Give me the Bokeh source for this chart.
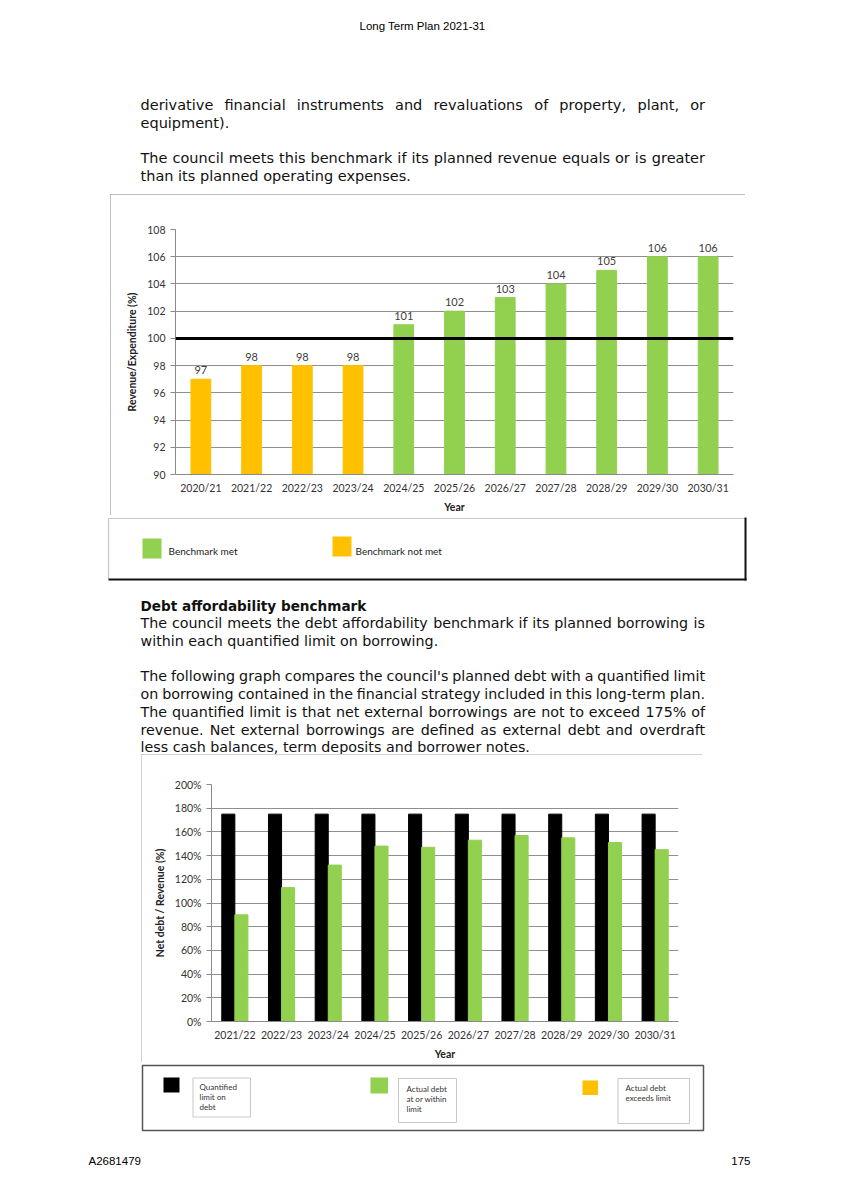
from bokeh.plotting import figure
from bokeh.layouts import column, row
from bokeh.models import (Range1d, FactorRange, FixedTicker, Span, Spacer,
                          PrintfTickFormatter, ColumnDataSource)
from bokeh.transform import dodge
from bokeh.core.properties import value
from bokeh.embed import file_html
from bokeh.resources import INLINE

# ---------------- data ----------------
years1 = ["2020/21", "2021/22", "2022/23", "2023/24", "2024/25", "2025/26",
          "2026/27", "2027/28", "2028/29", "2029/30", "2030/31"]
ratio1 = [97, 98, 98, 98, 101, 102, 103, 104, 105, 106, 106]
benchmark1 = 100
y1_ticks = [90, 92, 94, 96, 98, 100, 102, 104, 106, 108]

years2 = ["2021/22", "2022/23", "2023/24", "2024/25", "2025/26",
          "2026/27", "2027/28", "2028/29", "2029/30", "2030/31"]
limit2 = [175, 175, 175, 175, 175, 175, 175, 175, 175, 175]
actual2 = [90, 113, 132, 148, 147, 153, 157, 155, 151, 145]
y2_ticks = [0, 20, 40, 60, 80, 100, 120, 140, 160, 180, 200]

GREEN = "#92D050"
ORANGE = "#FFC000"
BODY_FONT = "DejaVu Sans"
CHART_FONT = "Lato"
TXT = "#111111"
PAGE_W = 844

# approximate DejaVu Sans advance widths (em)
CW = {' ': 0.318, 'a': 0.613, 'b': 0.635, 'c': 0.550, 'd': 0.635, 'e': 0.615, 'f': 0.352,
      'g': 0.635, 'h': 0.634, 'i': 0.278, 'j': 0.278, 'k': 0.579, 'l': 0.278, 'm': 0.974,
      'n': 0.634, 'o': 0.612, 'p': 0.635, 'q': 0.635, 'r': 0.411, 's': 0.521, 't': 0.392,
      'u': 0.634, 'v': 0.592, 'w': 0.818, 'x': 0.592, 'y': 0.592, 'z': 0.525, ',': 0.318,
      '.': 0.318, "'": 0.275, '-': 0.361, '%': 0.950, '(': 0.390, ')': 0.390, 'T': 0.611,
      'D': 0.770, 'N': 0.748}
for d in "0123456789":
    CW[d] = 0.636


def unit_w(s):
    return sum(CW.get(ch, 0.6) for ch in s)


def fit_size(lines, flags, width, cap, min_gap=0.30):
    fs = cap
    for line, j in zip(lines, flags):
        if j:
            words = line.split(" ")
            u = sum(unit_w(w) for w in words) + (len(words) - 1) * min_gap
            fs = min(fs, width / u)
    return fs


def page_fig(y0, y1):
    p = figure(width=PAGE_W, height=int(round(y1 - y0)), x_range=Range1d(0, PAGE_W),
               y_range=Range1d(y1, y0), output_backend="svg", toolbar_location=None,
               x_axis_location=None, y_axis_location=None, min_border=0)
    p.grid.visible = False
    p.outline_line_color = None
    return p


def draw_par(p, lines, ys, flags, fs, x0=140, x1=704.5):
    lx, ly, lt, rx, ry, rt = [], [], [], [], [], []
    for line, y, j in zip(lines, ys, flags):
        if not j:
            lx.append(x0); ly.append(y); lt.append(line)
            continue
        words = line.split(" ")
        widths = [unit_w(w) * fs for w in words]
        gap = (x1 - x0 - sum(widths)) / (len(words) - 1)
        x = x0
        for i, (w, wd) in enumerate(zip(words, widths)):
            if i == len(words) - 1:
                rx.append(x1); ry.append(y); rt.append(w)
            else:
                lx.append(x); ly.append(y); lt.append(w)
            x += wd + gap
    common = dict(text_baseline="middle", text_font=value(BODY_FONT),
                  text_font_size=f"{fs:.2f}px", text_color=TXT)
    p.text(x=lx, y=ly, text=lt, text_align="left", **common)
    if rt:
        p.text(x=rx, y=ry, text=rt, text_align="right", **common)


def style_axes(p, ylabel, yticks):
    p.outline_line_color = None
    p.xgrid.visible = False
    p.ygrid.ticker = FixedTicker(ticks=yticks)
    p.ygrid.grid_line_color = "#8f8f8f"
    p.ygrid.grid_line_width = 1
    for ax in p.axis:
        ax.axis_line_color = "#8a8a8a"
        ax.major_label_text_font = CHART_FONT
        ax.major_label_text_font_size = "10.5px"
        ax.major_label_text_color = "#333333"
        ax.axis_label_text_font = CHART_FONT
        ax.axis_label_text_font_size = "10.5px"
        ax.axis_label_text_font_style = "bold"
        ax.axis_label_text_color = "#222222"
        ax.minor_tick_line_color = None
    p.xaxis.major_tick_line_color = None
    p.xaxis.major_tick_out = 0
    p.xaxis.major_label_standoff = 7
    p.xaxis.axis_label = "Year"
    p.xaxis.axis_label_standoff = 4
    p.yaxis.ticker = FixedTicker(ticks=yticks)
    p.yaxis.major_tick_line_color = "#8a8a8a"
    p.yaxis.major_tick_out = 5
    p.yaxis.major_tick_in = 0
    p.yaxis.major_label_standoff = 5
    p.yaxis.axis_label = ylabel
    p.yaxis.axis_label_standoff = 6


# ---------------- strip A: top text (page y 0..194) ----------------
top = page_fig(0, 194)
top.text(x=[422], y=[25], text=["Long Term Plan 2021-31"], text_align="center",
         text_baseline="middle", text_font=value("Liberation Sans"),
         text_font_size="11.5px", text_color="#000000")
par1 = ["derivative financial instruments and revaluations of property, plant, or",
        "equipment).",
        "The council meets this benchmark if its planned revenue equals or is greater",
        "than its planned operating expenses."]
flags1 = [True, False, True, False]
fs1 = fit_size(par1, flags1, 564.5, 14.5)
draw_par(top, par1, [104, 122.5, 157.5, 175.5], flags1, fs1)

# ---------------- strip B: chart 1 (page x 110..745, y 194..515) ----------------
src1 = ColumnDataSource(dict(
    year=years1, ratio=ratio1, label=[str(v) for v in ratio1],
    color=[GREEN if v >= benchmark1 else ORANGE for v in ratio1]))

p1 = figure(width=635, height=321, x_range=FactorRange(*years1),
            y_range=Range1d(y1_ticks[0], y1_ticks[-1]), output_backend="svg",
            toolbar_location=None, min_border_left=65, min_border_right=12,
            min_border_top=35, min_border_bottom=40,
            styles={"outline": "2px solid #a8a8a8", "outline-offset": "-2px"})
p1.vbar(x="year", top="ratio", bottom=y1_ticks[0], width=0.39, color="color", source=src1)
p1.text(x="year", y="ratio", text="label", source=src1, text_align="center",
        text_baseline="bottom", y_offset=-5, text_font=value(CHART_FONT),
        text_font_size="11px", text_color="#404040")
p1.add_layout(Span(location=benchmark1, dimension="width", line_color="black", line_width=3))
style_axes(p1, "Revenue/Expenditure (%)", y1_ticks)
stripB = row(Spacer(width=110, height=321), p1, Spacer(width=PAGE_W - 745, height=321))

# ---------------- strip C: legend 1 + middle text (page y 515..754) ----------------
mid = page_fig(515, 754)
mid.segment(x0=[108, 108], y0=[518, 518], x1=[745, 108], y1=[518, 579],
            line_color="#c8c8c8", line_width=1.2)
mid.segment(x0=[745, 108], y0=[517, 579], x1=[745, 746], y1=[580, 579],
            line_color="#111111", line_width=2)
mid.quad(left=[142, 332], right=[161, 351], top=[538, 536], bottom=[558, 556],
         fill_color=[GREEN, ORANGE], line_color=None)
mid.text(x=[168, 355], y=[550, 550], text=["Benchmark met", "Benchmark not met"],
         text_align="left", text_baseline="middle", text_font=value(CHART_FONT),
         text_font_size="10px", text_color="#222222")
mid.text(x=[140], y=[605], text=["Debt affordability benchmark"], text_align="left",
         text_baseline="middle", text_font=value(BODY_FONT), text_font_size="13.6px",
         text_font_style="bold", text_color=TXT)
par2 = ["The council meets the debt affordability benchmark if its planned borrowing is",
        "within each quantified limit on borrowing.",
        "The following graph compares the council's planned debt with a quantified limit",
        "on borrowing contained in the financial strategy included in this long-term plan.",
        "The quantified limit is that net external borrowings are not to exceed 175% of",
        "revenue. Net external borrowings are defined as external debt and overdraft",
        "less cash balances, term deposits and borrower notes."]
flags2 = [True, False, True, True, True, True, False]
fs2 = fit_size(par2, flags2, 564.5, 14.5, min_gap=0.27)
draw_par(mid, par2, [622.5, 640.5, 675, 693, 711, 729, 746.5], flags2, fs2)

# ---------------- strip D: chart 2 (page x 141..702, y 754..1062) ----------------
src2 = ColumnDataSource(dict(year=years2, limit=limit2, actual=actual2))
p2 = figure(width=561, height=308, x_range=FactorRange(*years2),
            y_range=Range1d(y2_ticks[0], y2_ticks[-1]), output_backend="svg",
            toolbar_location=None, min_border_left=70, min_border_right=24,
            min_border_top=30, min_border_bottom=40,
            styles={"outline": "1px solid #c4c4c4", "outline-offset": "-1px"})
p2.vbar(x=dodge("year", -0.14, range=p2.x_range), top="limit", width=0.28,
        color="#000000", source=src2)
p2.vbar(x=dodge("year", 0.14, range=p2.x_range), top="actual", width=0.28,
        color=GREEN, source=src2)
style_axes(p2, "Net debt / Revenue (%)", y2_ticks)
p2.yaxis.formatter = PrintfTickFormatter(format="%d%%")
stripD = row(Spacer(width=141, height=308), p2, Spacer(width=PAGE_W - 702, height=308))

# ---------------- strip E: legend 2 + footer (page y 1062..1193) ----------------
bot = page_fig(1062, 1193)
bot.quad(left=[142], right=[703], top=[1065], bottom=[1130], fill_alpha=0,
         line_color="#555555", line_width=1.5)
bot.quad(left=[163, 370, 582], right=[179, 387.5, 597.5], top=[1077, 1077, 1080],
         bottom=[1092, 1093, 1094.5], fill_color=["#000000", GREEN, ORANGE], line_color=None)
bot.quad(left=[192.5, 398, 617.5], right=[250, 456, 689], top=[1077.5, 1078, 1078],
         bottom=[1116.5, 1122, 1123], fill_alpha=0, line_color="#c8c8c8", line_width=1)
bot.text(x=[199, 199, 199, 406, 406, 406, 625, 625],
         y=[1086, 1096, 1106, 1088, 1098, 1108, 1087, 1097.5],
         text=["Quantified", "limit on", "debt", "Actual debt", "at or within", "limit",
               "Actual debt", "exceeds limit"],
         text_align="left", text_baseline="middle", text_font=value(CHART_FONT),
         text_font_size="8px", text_color="#333333")
bot.text(x=[88], y=[1160], text=["A2681479"], text_align="left", text_baseline="middle",
         text_font=value("Liberation Sans"), text_font_size="11.5px", text_color="#000000")
bot.text(x=[750], y=[1160], text=["175"], text_align="right", text_baseline="middle",
         text_font=value("Liberation Sans"), text_font_size="11.5px", text_color="#000000")

page = column(row(top), stripB, row(mid), stripD, row(bot), spacing=0)
open("out.html", "w").write(file_html(page, INLINE))
